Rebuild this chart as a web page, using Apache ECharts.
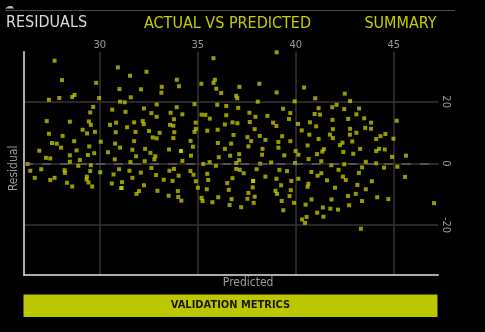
<!DOCTYPE html>
<html>
<head>
<meta charset="utf-8">
<script src="https://cdn.jsdelivr.net/npm/echarts@6/dist/echarts.min.js"></script>
<style>
  html, body { margin: 0; padding: 0; background: #000; }
  #chart { width: 485px; height: 332px; }
</style>
</head>
<body>
<div id="chart"></div>
<script>
// Tab headings, footer button and axis names
const tabs = ['RESIDUALS', 'ACTUAL VS PREDICTED', 'SUMMARY'];
const footerLabel = 'VALIDATION METRICS';
const xAxisName = 'Predicted';
const yAxisName = 'Residual';

// Axis extents (predicted value, residual)
const predictedRange = [26.13, 47.27];
const residualRange = [-36.2, 36.2];
const zeroResidual = 0;

// [predicted, residual] pairs
const residualPoints = [
  [27.69,33.3],[28.07,27.0],[27.40,20.6],[27.93,21.2],[28.59,21.5],[28.71,22.2],[29.81,26.1],[29.96,21.2],
  [30.92,31.1],[32.38,29.7],[31.54,28.4],[31.00,24.1],[32.10,24.0],[33.16,24.8],[33.14,22.9],[31.58,21.4],
  [31.03,20.0],[31.27,19.8],[29.66,18.3],[29.51,16.5],[30.63,17.4],[31.31,16.7],[32.25,17.8],[32.90,19.1],
  [32.63,16.3],[32.90,15.1],[27.29,13.7],[28.47,13.5],[29.44,13.6],[29.54,12.5],[30.52,12.5],[30.83,13.2],
  [31.39,11.7],[31.75,13.3],[32.19,13.7],[32.24,12.7],[27.40,9.6],[28.10,8.9],[29.12,10.9],[29.35,9.7],
  [29.75,10.2],[30.81,10.1],[31.82,10.2],[32.51,10.5],[33.05,9.9],[32.70,8.4],[32.90,8.1],[27.56,6.6],
  [27.80,6.4],[28.69,7.2],[30.05,7.0],[30.78,6.4],[31.75,7.2],[28.02,5.1],[26.91,4.1],[29.46,5.5],
  [28.81,4.2],[28.47,2.6],[27.25,1.8],[27.47,1.6],[29.39,2.7],[29.71,3.3],[31.03,5.1],[30.42,3.6],
  [31.66,4.4],[32.31,4.7],[32.58,3.4],[31.85,2.3],[32.83,2.3],[32.78,1.3],[28.47,0.5],[28.98,1.1],
  [30.76,1.3],[31.56,0.4],[32.29,0.7],[26.32,-0.2],[29.54,-0.6],[28.90,-0.8],[26.45,-2.4],[27.01,-1.9],
  [28.20,-2.2],[28.22,-3.1],[29.51,-2.5],[30.02,-2.9],[30.70,-3.6],[30.98,-1.9],[31.51,-2.4],[32.09,-3.0],
  [32.63,-1.5],[32.87,-3.8],[26.68,-4.7],[27.69,-4.7],[27.47,-5.4],[29.34,-4.3],[29.32,-5.2],[28.32,-6.3],
  [28.59,-7.5],[29.42,-6.2],[29.61,-7.5],[30.61,-6.5],[31.13,-6.1],[31.66,-4.7],[32.25,-7.1],[31.10,-8.0],
  [31.10,-8.0],[32.00,-9.0],[31.87,-9.9],[32.94,-8.9],[33.26,-5.3],
  [35.80,34.1],[39.02,36.0],[33.93,27.1],[34.04,25.0],[35.18,25.8],[35.87,27.1],[35.80,26.1],[35.94,24.2],
  [36.19,22.8],[37.12,24.8],[38.14,25.8],[36.96,21.9],[37.01,21.1],[39.02,23.0],[34.83,19.2],[35.99,19.0],
  [36.45,18.6],[37.06,18.0],[38.06,20.0],[39.94,20.1],[39.35,17.7],[33.92,18.2],[33.61,16.4],[34.21,15.9],
  [35.19,15.8],[35.38,15.7],[35.61,14.5],[36.45,15.6],[37.63,16.4],[37.94,15.1],[38.55,15.4],[39.72,16.3],
  [39.65,14.4],[33.78,14.3],[33.58,12.5],[33.75,12.2],[34.89,13.2],[36.38,12.6],[36.77,13.3],[37.02,13.0],
  [37.65,13.4],[38.84,13.2],[39.01,12.1],[40.11,12.8],[33.80,10.1],[34.83,10.2],[34.90,11.2],[35.48,10.6],
  [36.01,10.9],[37.90,11.1],[36.82,9.2],[37.53,8.5],[38.16,8.9],[39.30,8.8],[33.75,8.2],[34.63,7.3],
  [36.02,6.6],[36.70,6.4],[37.72,7.2],[38.45,7.6],[39.11,6.9],[39.72,7.2],[34.75,5.4],[33.53,4.5],
  [34.14,4.0],[34.14,4.0],[34.65,2.5],[36.38,4.7],[37.58,5.5],[38.30,4.7],[39.11,5.1],[39.99,4.0],
  [36.07,2.0],[36.65,2.5],[37.11,3.0],[38.28,2.8],[39.41,2.6],[40.13,2.8],[34.21,0.8],[35.28,-0.2],
  [35.60,0.4],[35.92,-0.8],[36.96,0.1],[37.11,1.0],[38.18,-0.1],[38.74,0.3],[39.96,0.1],[33.55,-2.4],
  [33.78,-1.8],[34.02,-4.0],[34.62,-2.5],[34.78,-3.7],[35.48,-3.4],[36.96,-1.8],[37.14,-2.1],[37.34,-3.2],
  [38.00,-1.9],[39.16,-2.1],[39.55,-2.5],[33.71,-5.7],[34.90,-5.8],[35.53,-5.4],[36.77,-4.8],[37.82,-5.7],
  [37.82,-5.7],[38.45,-4.3],[39.01,-5.0],[39.77,-5.7],[40.13,-5.0],[36.50,-6.4],[35.00,-7.9],[35.46,-8.4],
  [36.58,-8.6],[37.80,-7.8],[39.25,-7.1],[38.96,-8.9],[39.04,-9.9],[39.74,-8.7],[33.98,-9.0],[33.51,-10.5],
  [34.00,-10.9],[34.16,-12.1],[35.19,-11.2],[35.24,-12.2],[35.74,-12.6],[36.04,-11.0],[36.72,-11.6],[37.58,-9.6],
  [37.90,-10.8],[37.53,-11.5],[37.85,-12.8],[39.68,-10.6],[39.28,-12.2],[39.91,-12.8],[36.62,-13.5],[37.21,-14.2],
  [39.36,-15.2],
  [40.42,24.6],[40.99,21.1],[42.50,22.6],[42.77,20.2],[41.16,17.9],[41.86,18.2],[42.08,19.0],[42.47,17.6],
  [43.23,17.8],[40.96,16.0],[41.23,15.8],[43.09,15.9],[41.87,14.1],[42.67,14.4],[43.49,14.6],[43.84,13.2],
  [45.15,13.8],[40.72,13.3],[41.04,12.0],[40.30,10.7],[41.89,11.1],[42.77,11.2],[43.54,11.5],[43.84,11.2],
  [40.69,9.3],[41.74,9.3],[42.76,9.3],[43.09,9.9],[44.57,9.5],[44.32,8.8],[44.10,7.9],[41.89,8.2],
  [41.16,7.9],[44.98,8.0],[42.88,7.1],[42.38,6.7],[42.25,5.9],[40.60,5.8],[41.08,3.0],[41.35,3.8],
  [41.43,4.6],[42.42,3.7],[42.93,3.1],[43.28,4.7],[44.10,4.0],[44.25,4.7],[44.54,4.5],[44.91,2.1],
  [45.62,2.5],[40.65,1.4],[41.30,0.7],[41.81,-0.6],[42.47,-0.3],[43.57,0.5],[44.10,0.0],[43.38,-1.3],
  [44.50,-1.4],[45.18,-1.1],[40.79,-2.8],[41.11,-4.0],[41.30,-3.2],[42.18,-2.1],[43.22,-3.1],[42.40,-4.3],
  [42.55,-5.4],[41.59,-5.5],[40.64,-6.6],[40.60,-7.6],[42.00,-7.9],[43.14,-7.0],[43.88,-5.8],[45.57,-4.4],
  [43.57,-8.4],[42.66,-10.6],[43.06,-9.9],[44.15,-11.0],[44.72,-11.6],[43.38,-12.2],[40.80,-11.7],[41.82,-11.7],
  [40.50,-13.4],[41.38,-14.3],[41.76,-14.7],[42.15,-15.0],[42.72,-13.6],[41.09,-16.0],[41.41,-17.3],[40.55,-17.4],
  [40.32,-18.2],[40.47,-19.3],[47.05,-12.9],[43.32,-21.2]
];

const FONT = '"Liberation Sans Narrow", "DejaVu Sans Condensed", Roboto, sans-serif';
const ACCENT = '#c6cc00';
const GRID_LINE = '#353535';
const AXIS_LINE = '#e4e4e4';
const LABEL = '#9a9a9a';

const chart = echarts.init(document.getElementById('chart'), null, { renderer: 'canvas' });

const hiddenEdges = { showMinLabel: false, showMaxLabel: false };

const option = {
  backgroundColor: '#000',
  animation: false,
  grid: { left: 23, right: 46.7, top: 51.7, bottom: 57 },
  xAxis: [
    {
      type: 'value', position: 'bottom',
      min: predictedRange[0], max: predictedRange[1], splitNumber: 5,
      axisLine: { show: true, onZero: false, lineStyle: { color: AXIS_LINE, width: 1.5 } },
      axisTick: { show: false },
      axisLabel: { show: false },
      splitLine: { show: true, showMinLine: false, showMaxLine: false, lineStyle: { color: GRID_LINE, width: 1.5 } },
      name: xAxisName, nameLocation: 'middle', nameGap: 2,
      nameTextStyle: { color: LABEL, fontSize: 12, fontFamily: FONT, padding: [0, 0, 0, 34] }
    },
    {
      type: 'value', position: 'top',
      min: predictedRange[0], max: predictedRange[1], splitNumber: 5,
      axisLine: { show: false }, axisTick: { show: false }, splitLine: { show: false },
      axisLabel: Object.assign({ color: LABEL, fontSize: 11, fontFamily: FONT, margin: 1.5 }, hiddenEdges)
    }
  ],
  yAxis: [
    {
      type: 'value', position: 'left',
      min: residualRange[0], max: residualRange[1], splitNumber: 3,
      axisLine: { show: true, onZero: false, lineStyle: { color: AXIS_LINE, width: 1.5 } },
      axisTick: { show: false },
      axisLabel: { show: false },
      splitLine: { show: true, showMinLine: false, showMaxLine: false, lineStyle: { color: GRID_LINE, width: 1.5 } },
      name: yAxisName, nameLocation: 'middle', nameGap: 4,
      nameTextStyle: { color: LABEL, fontSize: 12, fontFamily: FONT, padding: [0, 10, 0, 0] }
    },
    {
      type: 'value', position: 'right',
      min: residualRange[0], max: residualRange[1], splitNumber: 3,
      axisLine: { show: false }, axisTick: { show: false }, splitLine: { show: false },
      axisLabel: Object.assign({ color: LABEL, fontSize: 11, fontFamily: FONT, margin: 2, rotate: -90 }, hiddenEdges)
    }
  ],
  series: [{
    type: 'scatter',
    xAxisIndex: 0, yAxisIndex: 0,
    data: residualPoints,
    symbol: 'rect',
    symbolSize: 4,
    itemStyle: { color: '#d2d600', opacity: 0.72 },
    markLine: {
      silent: true, symbol: 'none', label: { show: false },
      lineStyle: { color: '#707070', type: [9, 9], width: 1.5, opacity: 0.8 },
      data: [{ yAxis: zeroResidual }]
    }
  }],
  graphic: [
    { type: 'line', shape: { x1: 5, y1: 10.5, x2: 455, y2: 10.5 }, style: { stroke: '#4c4c4c', lineWidth: 1 }, silent: true },
    { type: 'polygon', shape: { points: [[5, 8.5], [9, 6], [12, 6], [14, 8.5]] }, style: { fill: '#b5b5b5' }, silent: true },
    { type: 'text', left: 6, top: 15, style: { text: tabs[0], fill: '#dcdcdc', font: '16px ' + FONT } },
    { type: 'text', x: 227.5, y: 24, style: { text: tabs[1], fill: ACCENT, font: '16px ' + FONT, align: 'center', verticalAlign: 'middle' } },
    { type: 'text', x: 400.5, y: 24, style: { text: tabs[2], fill: ACCENT, font: '16px ' + FONT, align: 'center', verticalAlign: 'middle' } },
    { type: 'rect', shape: { x: 23.5, y: 294.5, width: 414, height: 22.5 }, style: { fill: '#bdc700' }, silent: true },
    { type: 'text', x: 230.5, y: 305.5, style: { text: footerLabel, fill: '#1a1a00', font: 'bold 11px ' + FONT, align: 'center', verticalAlign: 'middle' } }
  ]
};

chart.setOption(option);
</script>
</body>
</html>
